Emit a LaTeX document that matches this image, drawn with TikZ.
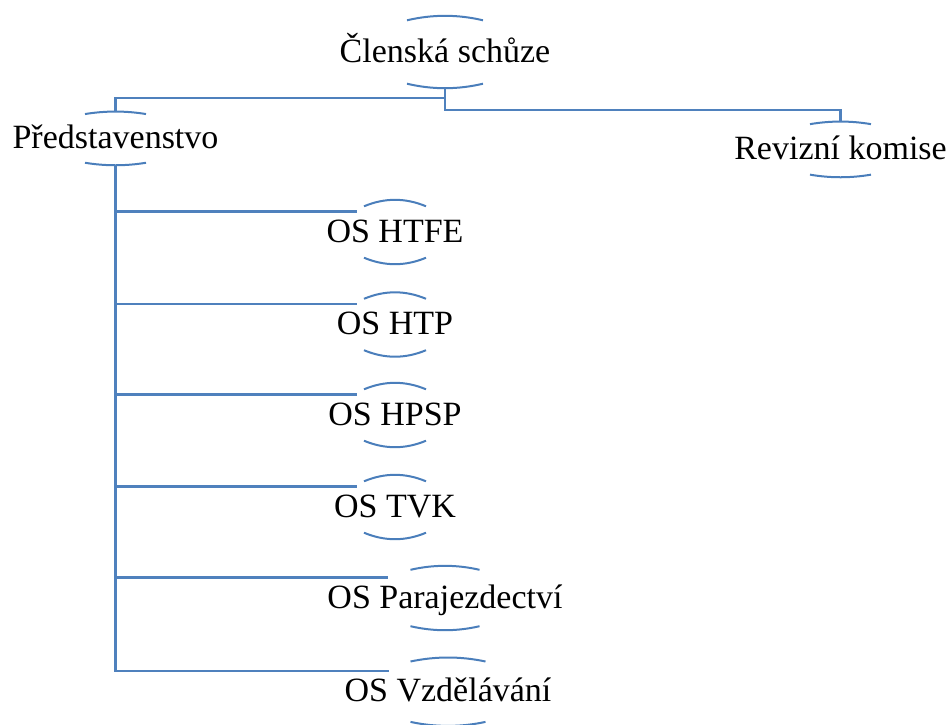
\documentclass[tikz,border=0pt]{standalone}
\usepackage{fontspec}
\setmainfont{Liberation Serif}
\usepackage{tikz}
\usepackage{xcolor}
\definecolor{connblue}{HTML}{4F81BD}
\definecolor{capblue}{HTML}{4A7EBB}
\newcommand\capsof[3]{%
  \draw[capline] ([xshift=-#2pt,yshift=-#3pt]#1.north)
    .. controls +({#2*2/3*1pt},{#3*4/3*1pt}) and +({-#2*2/3*1pt},{#3*4/3*1pt}) .. ([xshift=#2pt,yshift=-#3pt]#1.north);
  \draw[capline] ([xshift=-#2pt,yshift=#3pt]#1.south)
    .. controls +({#2*2/3*1pt},{-#3*4/3*1pt}) and +({-#2*2/3*1pt},{-#3*4/3*1pt}) .. ([xshift=#2pt,yshift=#3pt]#1.south);
}
\begin{document}
\begin{tikzpicture}[x=1pt,y=-1pt,
    unit/.style={inner sep=0pt,text height=20pt,text depth=0pt,font=\fontsize{34}{40}\selectfont},
    capline/.style={capblue,line width=2pt},
    conn/.style={connblue,line width=2.4pt}]
  \useasboundingbox (0,0) rectangle (952,724);
  \node[unit,minimum height=72pt] (clen) at (445,52) {Členská schůze};
  \node[unit,minimum height=53.3pt] (pred) at (115.5,138.4) {Představenstvo};
  \node[unit,minimum height=55.3pt] (rev) at (840.5,149.4) {Revizní komise};
  \node[unit,minimum height=64pt] (htfe) at (395,232) {OS HTFE};
  \node[unit,minimum height=64pt] (htp) at (395,324.5) {OS HTP};
  \node[unit,minimum height=64pt] (hpsp) at (395,415) {OS HPSP};
  \node[unit,minimum height=64pt] (tvk) at (395,507) {OS TVK};
  \node[unit,minimum height=64pt] (paraj) at (445,598) {OS Parajezdectví};
  \node[unit,minimum height=68pt] (vzdel) at (448,691.7) {OS Vzdělávání};
  \capsof{clen}{38}{4.5}
  \capsof{pred}{30.5}{2.5}
  \capsof{rev}{30.5}{2.6}
  \capsof{htfe}{31}{6.5}
  \capsof{htp}{31}{6.5}
  \capsof{hpsp}{31}{6.5}
  \capsof{tvk}{31}{6.5}
  \capsof{paraj}{34.5}{4}
  \capsof{vzdel}{37.5}{4}
  \draw[conn] (clen.south) -- ++(0,10) -| (pred.north);
  \draw[conn] (clen.south) -- ++(0,21.5) -| (rev.north);
  \foreach \n/\d in {htfe/38,htp/38.5,hpsp/38.5,tvk/38.5,paraj/57,vzdel/59}
    \draw[conn] (pred.south) |- ([xshift=-\d pt,yshift=20.5pt]\n.center);
\end{tikzpicture}
\end{document}
